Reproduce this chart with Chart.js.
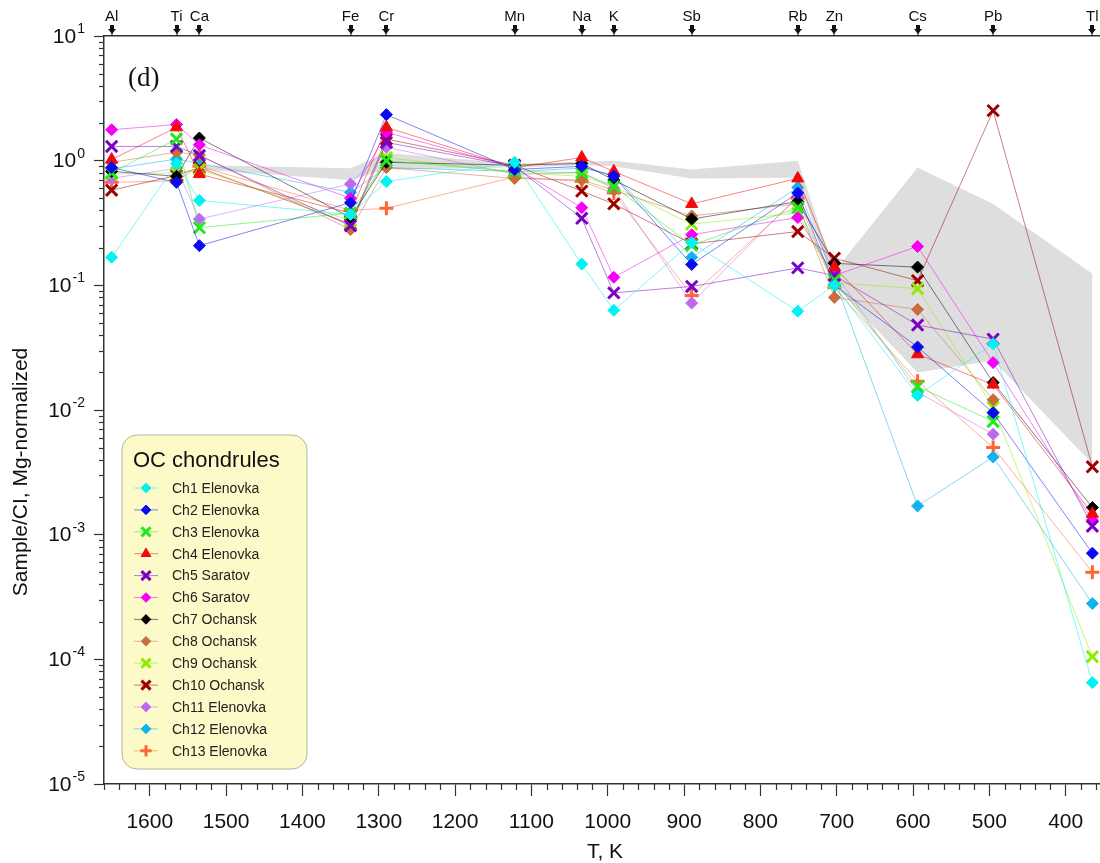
<!DOCTYPE html>
<html>
<head>
<meta charset="utf-8">
<title>OC chondrules – volatility trend</title>
<script src="https://cdn.jsdelivr.net/npm/chart.js@4.4.1/dist/chart.umd.min.js"></script>
<style>
  html, body { margin: 0; padding: 0; background: #fff; }
  #wrap { position: relative; width: 1100px; height: 863px; }
</style>
</head>
<body>
<div id="wrap"><canvas id="chart" width="1100" height="863"></canvas></div>
<script>
// element order follows 50% condensation temperature (K)
const elementLabels = ["Al", "Ti", "Ca", "Fe", "Cr", "Mn", "Na", "K", "Sb", "Rb", "Zn", "Cs", "Pb", "Tl"];
const condensationT = [1650, 1565, 1535, 1337, 1290, 1122, 1034, 992, 890, 751, 703, 594, 495, 365];

const xMajorTicks = [1600, 1500, 1400, 1300, 1200, 1100, 1000, 900, 800, 700, 600, 500, 400];
const yDecadeTicks = [1e-5, 1e-4, 1e-3, 1e-2, 1e-1, 1, 10];

const seriesNames = [
  "Ch1 Elenovka", "Ch2 Elenovka", "Ch3 Elenovka", "Ch4 Elenovka", "Ch5 Saratov",
  "Ch6 Saratov", "Ch7 Ochansk", "Ch8 Ochansk", "Ch9 Ochansk", "Ch10 Ochansk",
  "Ch11 Elenovka", "Ch12 Elenovka", "Ch13 Elenovka"
];

// Sample/CI, Mg-normalized, in element order Al ... Tl (null = not measured)
const ch1 = [0.168, 0.95, 0.48, 0.37, 0.68, 0.97, 0.148, 0.063, 0.22, 0.062, 0.10, 0.0131, 0.034, 6.5e-5];
const ch2 = [0.88, 0.67, 0.208, 0.46, 2.34, 0.85, 0.90, 0.75, 0.147, 0.55, 0.10, 0.032, 0.0095, 7.1e-4];
const ch3 = [0.80, 1.49, 0.29, 0.38, 1.00, 0.82, 0.80, 0.62, 0.21, 0.42, 0.11, 0.0154, 0.0081, null];
const ch4 = [1.02, 1.85, 0.78, 0.38, 1.85, 0.88, 1.06, 0.82, 0.45, 0.72, 0.14, 0.028, 0.016, 1.47e-3];
const ch5 = [1.30, 1.30, 1.10, 0.30, 1.40, 0.90, 0.345, 0.087, 0.098, 0.138, 0.12, 0.048, 0.037, 1.17e-3];
const ch6 = [1.77, 1.95, 1.34, 0.50, 1.69, 0.88, 0.42, 0.116, 0.255, 0.35, 0.12, 0.205, 0.024, 1.31e-3];
const ch7 = [0.82, 0.75, 1.52, 0.35, 0.97, 0.92, 0.95, 0.70, 0.34, 0.47, 0.15, 0.14, 0.0166, 1.65e-3];
const ch8 = [0.97, 1.17, 1.11, 0.28, 0.88, 0.72, 0.70, 0.58, 0.36, 0.45, 0.080, 0.064, 0.0121, null];
const ch9 = [0.78, 0.80, 0.85, 0.33, 1.06, 0.80, 0.75, 0.62, 0.31, 0.38, 0.105, 0.094, 0.0105, 1.05e-4];
const ch10 = [0.58, 0.76, 0.88, 0.31, 1.49, 0.92, 0.57, 0.45, 0.215, 0.27, 0.165, 0.109, 2.52, 3.5e-3];
const ch11 = [0.72, 0.87, 0.34, 0.65, 1.28, 0.78, 0.80, 0.60, 0.072, 0.52, 0.127, 0.0139, 0.0064, null];
const ch12 = [0.86, 1.03, 0.95, 0.557, 0.88, 0.82, 0.87, 0.77, 0.168, 0.61, 0.112, 0.0017, 0.0042, 2.8e-4];
const ch13 = [0.67, 0.69, 0.90, 0.40, 0.415, 0.74, 0.68, 0.55, 0.083, 0.50, 0.096, 0.017, 0.005, 5.0e-4];
const seriesValues = [ch1, ch2, ch3, ch4, ch5, ch6, ch7, ch8, ch9, ch10, ch11, ch12, ch13];

// grey field: Ca ... Tl
const bandT = condensationT.slice(2);
const bandUpper = [0.92, 0.87, 1.15, 0.95, 0.98, 1.00, 0.85, 1.00, 0.13, 0.88, 0.45, 0.124];
const bandLower = [0.85, 0.70, 0.85, 0.88, 0.92, 0.90, 0.72, 0.73, 0.10, 0.020, 0.025, 0.0037];

const FONT = "'Liberation Sans', Arial, sans-serif";

const seriesStyle = [
  ["#00F2F2", "rectRot"],
  ["#0A0AF0", "rectRot"],
  ["#1EEA1E", "crossRot"],
  ["#F20A0A", "triangle"],
  ["#7A00C6", "crossRot"],
  ["#F500F5", "rectRot"],
  ["#000000", "rectRot"],
  ["#C86E3C", "rectRot"],
  ["#8EEC00", "crossRot"],
  ["#9C0000", "crossRot"],
  ["#BD6AF0", "rectRot"],
  ["#10B4EC", "rectRot"],
  ["#FF6433", "cross"]
];

const pointSpec = {
  rectRot: { radius: 6, borderWidth: 1 },
  crossRot: { radius: 8, borderWidth: 3 },
  triangle: { radius: 7, borderWidth: 1 },
  cross: { radius: 7, borderWidth: 3 }
};

function fade(hex, alpha) {
  const n = parseInt(hex.slice(1), 16);
  return `rgba(${(n >> 16) & 255}, ${(n >> 8) & 255}, ${n & 255}, ${alpha})`;
}

const bandDatasets = [
  {
    label: "band-low",
    data: bandT.map((t, i) => ({ x: t, y: bandLower[i] })),
    borderWidth: 0,
    pointRadius: 0,
    fill: false,
    order: 100
  },
  {
    label: "band-high",
    data: bandT.map((t, i) => ({ x: t, y: bandUpper[i] })),
    borderWidth: 0,
    pointRadius: 0,
    backgroundColor: "#DEDEDE",
    fill: "-1",
    order: 100
  }
];

const seriesDatasets = seriesValues.map((values, i) => {
  const [color, shape] = seriesStyle[i];
  const spec = pointSpec[shape];
  return {
    label: seriesNames[i],
    data: values.map((v, j) => ({ x: condensationT[j], y: v })).filter(p => p.y !== null),
    borderColor: fade(color, 0.5),
    borderWidth: 1,
    pointStyle: shape,
    pointRadius: spec.radius,
    pointBorderWidth: spec.borderWidth,
    pointBackgroundColor: color,
    pointBorderColor: color,
    fill: false,
    tension: 0,
    clip: false,
    order: i + 1
  };
});

function drawPin(ctx, x) {
  ctx.fillStyle = "#111";
  ctx.fillRect(x - 2, 25, 4, 4);
  ctx.beginPath();
  ctx.moveTo(x - 4, 29);
  ctx.lineTo(x + 4, 29);
  ctx.lineTo(x, 34);
  ctx.closePath();
  ctx.fill();
  ctx.fillRect(x - 0.5, 32, 1, 4);
}

function drawPowerLabel(ctx, exp, xRight, y) {
  const sup = exp < 0 ? "-" + (-exp) : String(exp);
  ctx.font = `21px ${FONT}`;
  const wBase = ctx.measureText("10").width;
  ctx.font = `14px ${FONT}`;
  const wSup = ctx.measureText(sup).width;
  const left = xRight - wBase - wSup;
  ctx.fillStyle = "#111";
  ctx.textAlign = "left";
  ctx.textBaseline = "middle";
  ctx.font = `21px ${FONT}`;
  ctx.fillText("10", left, y + 1);
  ctx.font = `14px ${FONT}`;
  ctx.fillText(sup, left + wBase + 1, y - 7);
}

function drawLegend(chart) {
  const ctx = chart.ctx;
  const box = { x: 122, y: 435, w: 185, h: 334, r: 15 };
  ctx.save();
  ctx.beginPath();
  ctx.roundRect(box.x, box.y, box.w, box.h, box.r);
  ctx.fillStyle = "#FCFAC8";
  ctx.fill();
  ctx.lineWidth = 1;
  ctx.strokeStyle = "#B4B4A2";
  ctx.stroke();

  ctx.fillStyle = "#111";
  ctx.font = `22px ${FONT}`;
  ctx.textAlign = "left";
  ctx.textBaseline = "middle";
  ctx.fillText("OC chondrules", 133, 461);

  seriesDatasets.forEach((ds, i) => {
    const y = 488 + i * 21.9;
    const [color, shape] = seriesStyle[i];
    const spec = pointSpec[shape];
    ctx.strokeStyle = fade(color, 0.5);
    ctx.lineWidth = 1;
    ctx.beginPath();
    ctx.moveTo(134, y);
    ctx.lineTo(158, y);
    ctx.stroke();
    ctx.fillStyle = color;
    ctx.strokeStyle = color;
    ctx.lineWidth = spec.borderWidth;
    Chart.helpers.drawPoint(ctx, {
      pointStyle: shape,
      radius: spec.radius * 0.8,
      rotation: 0,
      borderWidth: spec.borderWidth
    }, 146, y);
    ctx.fillStyle = "#222";
    ctx.font = `14px ${FONT}`;
    ctx.fillText(ds.label, 172, y + 1);
  });
  ctx.restore();
}

const paperDecor = {
  id: "paperDecor",
  afterDraw(chart) {
    const ctx = chart.ctx;
    const { x, y, xTop } = chart.scales;
    const area = chart.chartArea;
    ctx.save();

    // minor ticks, y (2..9 of each decade)
    ctx.strokeStyle = "#333";
    ctx.lineWidth = 1.2;
    for (let e = -5; e < 1; e++) {
      for (let k = 2; k <= 9; k++) {
        const py = Math.round(y.getPixelForValue(k * Math.pow(10, e))) + 0.5;
        ctx.beginPath();
        ctx.moveTo(area.left - 5, py);
        ctx.lineTo(area.left, py);
        ctx.stroke();
      }
    }
    // minor ticks, x (every 20 K)
    for (let t = 360; t <= 1660; t += 20) {
      if (t % 100 === 0) continue;
      const px = Math.round(x.getPixelForValue(t)) + 0.5;
      ctx.beginPath();
      ctx.moveTo(px, area.bottom);
      ctx.lineTo(px, area.bottom + 6);
      ctx.stroke();
    }

    // decade labels with superscript exponents
    yDecadeTicks.forEach(v => drawPowerLabel(ctx, Math.round(Math.log10(v)), 84, y.getPixelForValue(v)));

    // element pins on the top axis
    condensationT.forEach(t => drawPin(ctx, Math.round(xTop.getPixelForValue(t))));

    // axis titles
    ctx.fillStyle = "#111";
    ctx.font = `21px ${FONT}`;
    ctx.textAlign = "center";
    ctx.textBaseline = "middle";
    ctx.fillText("T, K", 605, 852);
    ctx.save();
    ctx.translate(21, 472);
    ctx.rotate(-Math.PI / 2);
    ctx.fillText("Sample/CI, Mg-normalized", 0, 0);
    ctx.restore();

    // panel tag
    ctx.font = `27px 'Liberation Serif', 'Times New Roman', serif`;
    ctx.textAlign = "left";
    ctx.textBaseline = "alphabetic";
    ctx.fillText("(d)", 128, 86);

    ctx.restore();
    drawLegend(chart);
  }
};

function flushHorizontal(height) {
  return scale => {
    scale.height = height;
    scale.paddingLeft = 0;
    scale.paddingRight = 0;
  };
}

new Chart(document.getElementById("chart"), {
  type: "line",
  data: { datasets: [...bandDatasets, ...seriesDatasets] },
  options: {
    responsive: false,
    animation: false,
    events: [],
    layout: { padding: 0, autoPadding: false },
    plugins: {
      legend: { display: false },
      tooltip: { enabled: false }
    },
    scales: {
      x: {
        type: "linear",
        position: "bottom",
        reverse: true,
        min: 355,
        max: 1660,
        afterBuildTicks: scale => { scale.ticks = xMajorTicks.map(v => ({ value: v })); },
        afterFit: flushHorizontal(79),
        ticks: {
          callback: value => String(value),
          font: { family: FONT, size: 21 },
          color: "#111",
          padding: 14,
          maxRotation: 0,
          autoSkip: false
        },
        grid: { drawOnChartArea: false, drawTicks: true, tickLength: 12, tickColor: "#333", tickWidth: 1.2 },
        border: { display: true, color: "#333", width: 1.5 }
      },
      xTop: {
        type: "linear",
        position: "top",
        reverse: true,
        min: 355,
        max: 1660,
        afterBuildTicks: scale => { scale.ticks = condensationT.map(v => ({ value: v })); },
        afterFit: flushHorizontal(36),
        ticks: {
          callback: (value, index) => elementLabels[index],
          font: { family: FONT, size: 15 },
          color: "#111",
          padding: 10,
          maxRotation: 0,
          autoSkip: false
        },
        grid: { display: false, drawTicks: false },
        border: { display: true, color: "#333", width: 1.5 }
      },
      y: {
        type: "logarithmic",
        position: "left",
        min: 1e-5,
        max: 10,
        afterBuildTicks: scale => { scale.ticks = yDecadeTicks.map(v => ({ value: v })); },
        afterFit: scale => {
          scale.width = 104;
          scale.paddingTop = 0;
          scale.paddingBottom = 0;
        },
        ticks: { callback: () => "" },
        grid: { drawOnChartArea: false, drawTicks: true, tickLength: 10, tickColor: "#333", tickWidth: 1.2 },
        border: { display: true, color: "#333", width: 1.5 }
      }
    }
  },
  plugins: [paperDecor]
});
</script>
</body>
</html>
